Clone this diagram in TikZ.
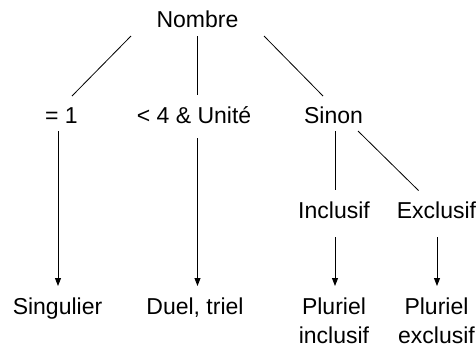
\documentclass[tikz,border=0pt]{standalone}
\usepackage{fontspec}
\setmainfont{Liberation Sans}
\usetikzlibrary{arrows.meta,calc}
\begin{document}
\begin{tikzpicture}[x=1pt,y=1pt,
  lbl/.style={anchor=base,inner sep=0pt,font=\fontsize{23}{29.5}\selectfont},
  conn/.style={line width=0.8pt},
  arr/.style={line width=0.9pt,-{Triangle[length=8pt,width=6pt]}}]
\useasboundingbox (0,0) rectangle (476,-349);
\node[lbl] (nombre) at (197.5,-27) {Nombre};
\node[lbl] (eq) at (61.5,-123) {= 1};
\node[lbl] (lt) at (194,-123) {< 4 \& Unité};
\node[lbl] (sinon) at (333.5,-123) {Sinon};
\node[lbl] (incl) at (334,-218) {Inclusif};
\node[lbl] (excl) at (436.5,-218) {Exclusif};
\node[lbl] (sing) at (57.5,-314) {Singulier};
\node[lbl] (duel) at (195,-314) {Duel, triel};
\node[lbl] (plinc) at (334,-314) {\begin{tabular}[t]{@{}c@{}}Pluriel\\inclusif\end{tabular}};
\node[lbl] (plexc) at (436.5,-314) {\begin{tabular}[t]{@{}c@{}}Pluriel\\exclusif\end{tabular}};
% connectors
\draw[conn] ($(nombre.base)+(-66.5,-9)$) -- ($(eq.base)+(10.5,27)$);
\draw[conn] ($(nombre.base)+(0,-9)$) -- ($(lt.base)+(3.5,28)$);
\draw[conn] ($(nombre.base)+(66.5,-9)$) -- ($(sinon.base)+(-10.5,27)$);
\draw[arr] ($(eq.base)+(-3.5,-8)$) -- ($(sing.base)+(0.5,28)$);
\draw[arr] ($(lt.base)+(3.5,-15)$) -- ($(duel.base)+(2.5,28)$);
\draw[conn] ($(sinon.base)+(1.5,-8)$) -- ($(incl.base)+(1,28)$);
\draw[conn] ($(sinon.base)+(24.5,-8)$) -- ($(excl.base)+(-18,27.5)$);
\draw[arr] ($(incl.base)+(1,-19)$) -- ($(plinc.base)+(1,28)$);
\draw[arr] ($(excl.base)+(0.5,-19)$) -- ($(plexc.base)+(0.5,28)$);
\end{tikzpicture}
\end{document}
